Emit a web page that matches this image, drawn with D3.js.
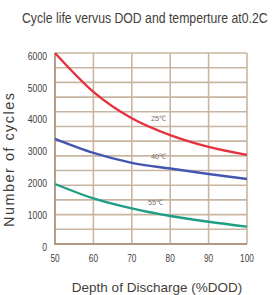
<!DOCTYPE html>
<html>
<head>
<meta charset="utf-8">
<script src="https://cdn.jsdelivr.net/npm/d3@7"></script>
<style>
  html, body { margin: 0; padding: 0; background: #fff; }
  svg { display: block; font-family: "Liberation Sans", Arial, sans-serif; }
</style>
</head>
<body>
<div id="chart"></div>
<script>
// depth of discharge (%) and cycles
const dod = [50, 60, 70, 80, 90, 100];
const cycles25 = [6000, 4780, 3950, 3420, 3050, 2800];
const cycles40 = [3300, 2860, 2550, 2370, 2200, 2040];
const cycles55 = [1885, 1435, 1120, 880, 700, 545];

const xTicks = [50, 60, 70, 80, 90, 100];
const yTicks = [0, 1000, 2000, 3000, 4000, 5000, 6000];

const seriesNames = ['25℃', '40℃', '55℃'];
const seriesColors = ['#e6323f', '#4456b0', '#1e9e84'];
// where each curve label sits (dod, cycles)
const labelAt = [[75, 3850], [75, 2655], [74.2, 1210]];

const width = 277, height = 295;
const plot = { left: 55, right: 247, top: 53, bottom: 244 };
const gridRows = 13;
const gridColor = '#c9b6a2';
const textColor = '#433e3a';

const svg = d3.select('#chart').append('svg')
  .attr('width', width)
  .attr('height', height);

const x = d3.scaleLinear().domain([50, 100]).range([plot.left, plot.right]);
const y = d3.scaleLinear().domain([0, 6000]).range([plot.bottom, plot.top]);
// the background grid has its own row spacing in the original
const gridY = d3.scaleLinear().domain([0, gridRows]).range([plot.bottom, plot.top]);

// title, squeezed like the condensed face of the original
svg.append('text')
  .attr('transform', 'translate(22,22.5) scale(0.8,1)')
  .attr('font-size', 15)
  .attr('fill', textColor)
  .attr('textLength', 307)
  .attr('lengthAdjust', 'spacingAndGlyphs')
  .text('Cycle life vervus DOD and temperture at0.2C');

// grid
const g = svg.append('g');
g.selectAll('line.h')
  .data(d3.range(0, gridRows + 1))
  .enter().append('line')
  .attr('class', 'h')
  .attr('x1', plot.left).attr('x2', plot.right)
  .attr('y1', d => gridY(d)).attr('y2', d => gridY(d))
  .attr('stroke', gridColor).attr('stroke-width', 1.6);

g.selectAll('line.v')
  .data(xTicks)
  .enter().append('line')
  .attr('class', 'v')
  .attr('x1', d => x(d)).attr('x2', d => x(d))
  .attr('y1', plot.top).attr('y2', plot.bottom)
  .attr('stroke', gridColor).attr('stroke-width', 1.6);

// darker left and bottom edge
g.append('path')
  .attr('d', `M${plot.left},${plot.top}V${plot.bottom}H${plot.right}`)
  .attr('fill', 'none')
  .attr('stroke', '#b09a84')
  .attr('stroke-width', 1.8);

// tick labels
svg.append('g').selectAll('text')
  .data(yTicks)
  .enter().append('text')
  .attr('x', 47)
  .attr('y', d => y(d) + 3 + 3.8)
  .attr('text-anchor', 'end')
  .attr('font-size', 11.5)
  .attr('fill', textColor)
  .attr('textLength', d => String(d).length * 4.8)
  .attr('lengthAdjust', 'spacingAndGlyphs')
  .text(d => d);

svg.append('g').selectAll('text')
  .data(xTicks)
  .enter().append('text')
  .attr('x', d => x(d))
  .attr('y', 261.5)
  .attr('text-anchor', 'middle')
  .attr('font-size', 11.5)
  .attr('fill', textColor)
  .attr('textLength', d => String(d).length * 4.6)
  .attr('lengthAdjust', 'spacingAndGlyphs')
  .text(d => d);

// axis titles
svg.append('text')
  .attr('x', 157)
  .attr('y', 292)
  .attr('text-anchor', 'middle')
  .attr('font-size', 13.5)
  .attr('fill', textColor)
  .text('Depth of Discharge (%DOD)');

svg.append('text')
  .attr('transform', 'translate(13.5,160) rotate(-90)')
  .attr('text-anchor', 'middle')
  .attr('font-size', 14.5)
  .attr('fill', textColor)
  .attr('textLength', 134)
  .attr('lengthAdjust', 'spacing')
  .text('Number of cycles');

// curves
const line = d3.line()
  .x(d => x(d[0]))
  .y(d => y(d[1]))
  .curve(d3.curveMonotoneX);

const series = [cycles25, cycles40, cycles55];

svg.append('g').selectAll('path')
  .data(series)
  .enter().append('path')
  .attr('d', s => line(dod.map((v, i) => [v, s[i]])))
  .attr('fill', 'none')
  .attr('stroke', (s, i) => seriesColors[i])
  .attr('stroke-width', 2.4);

svg.append('g').selectAll('text')
  .data(seriesNames)
  .enter().append('text')
  .attr('x', (d, i) => x(labelAt[i][0]))
  .attr('y', (d, i) => y(labelAt[i][1]))
  .attr('font-size', 7.5)
  .attr('fill', '#776d66')
  .attr('textLength', 15)
  .attr('lengthAdjust', 'spacingAndGlyphs')
  .text(d => d);
</script>
</body>
</html>
